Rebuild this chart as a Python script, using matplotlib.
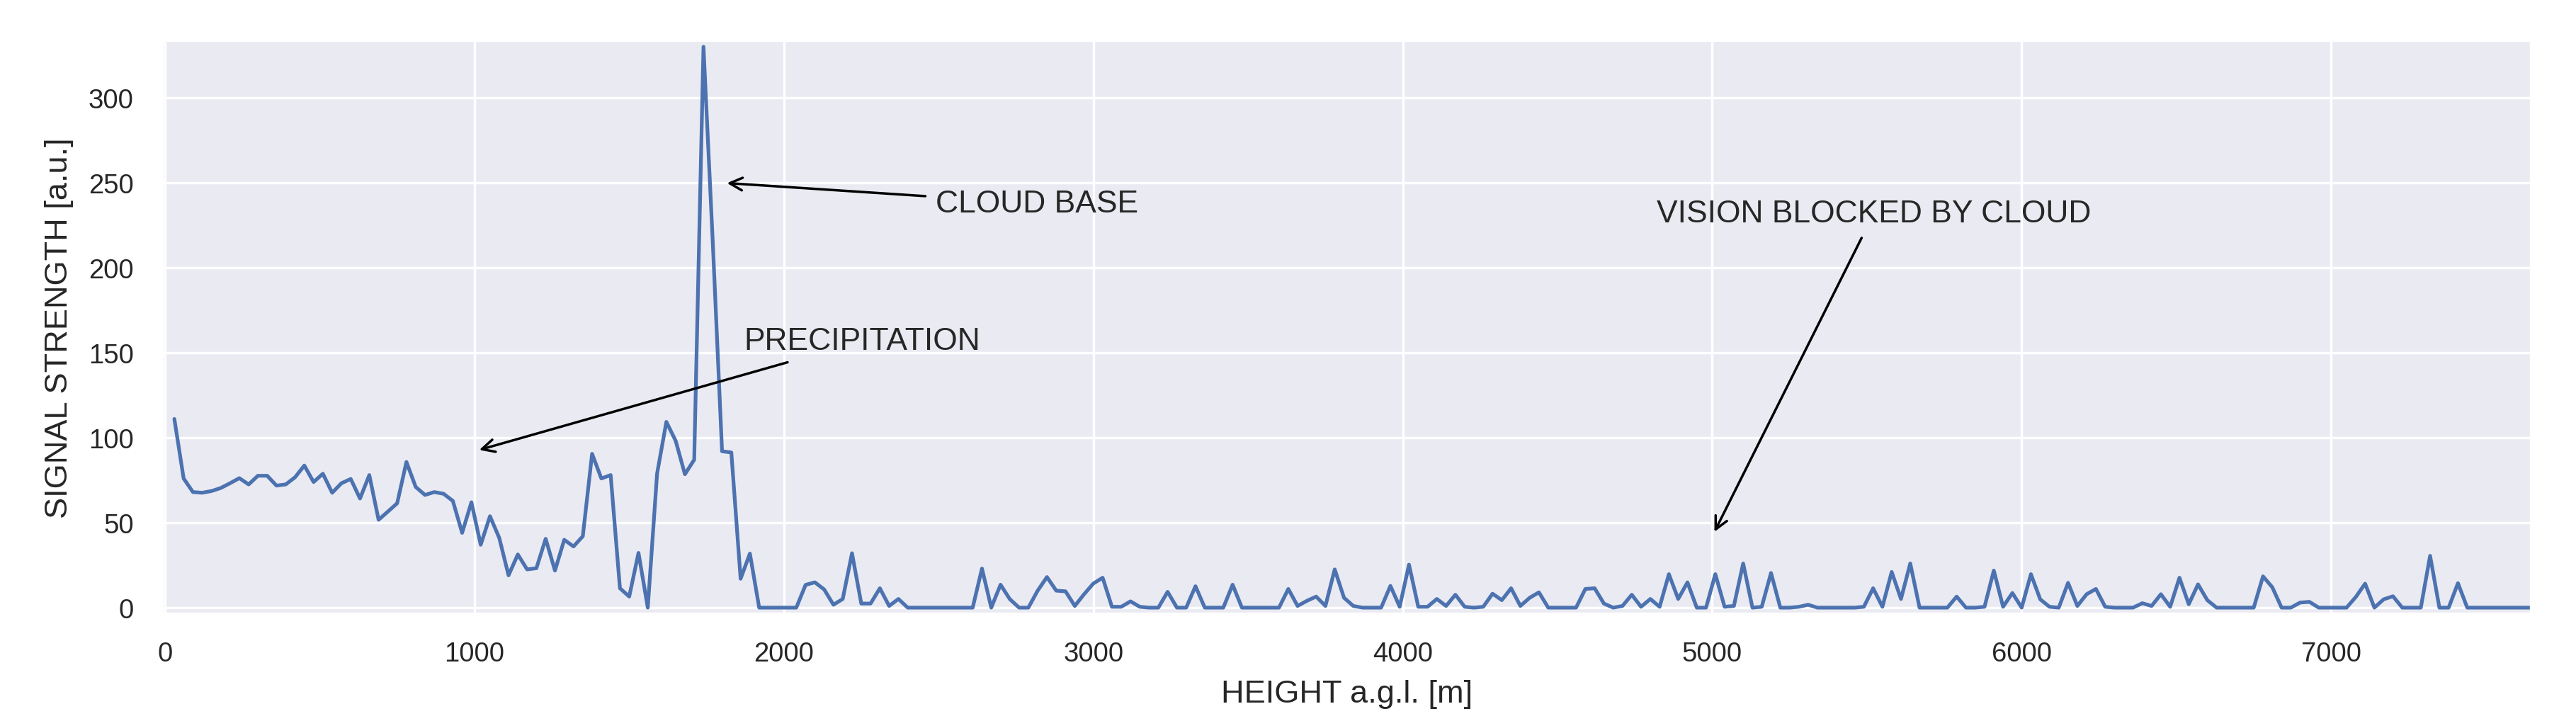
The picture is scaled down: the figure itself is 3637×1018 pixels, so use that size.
import numpy as np
import matplotlib
matplotlib.use("Agg")
import matplotlib.pyplot as plt
import seaborn as sns

# range gates every 30 m
height = np.arange(30, 7681, 30)

signal = [
    111, 76, 68, 67.6, 68.6, 70.4, 73.2, 76.2, 72.5, 77.6,
    77.6, 71.8, 72.5, 76.7, 83.6, 73.9, 78.8, 67.6, 73.2, 75.7,
    64.2, 78, 51.7, 56.5, 61.4, 85.7, 71, 66.3, 68, 67,
    62.8, 44, 62, 37, 53.8, 41, 19, 31.3, 22.5, 23.2,
    40.5, 21.8, 39.9, 36, 42, 90.5, 76, 78, 11.4, 6.5,
    32.2, 0, 78.8, 109.3, 98.2, 78.5, 87, 330, 215, 92,
    91.3, 17, 31.8, 0, 0, 0, 0, 0, 13.4, 14.9,
    10.7, 1.7, 5.1, 32, 2.4, 2.4, 11.4, 1, 5.1, 0,
    0, 0, 0, 0, 0, 0, 0, 23, 0, 13.5,
    5, 0, 0, 10, 18, 10, 9.6, 1, 7.9, 14.2,
    17.6, 0.5, 0.5, 3.7, 0.5, 0, 0, 9.3, 0, 0,
    12.6, 0, 0, 0, 13.5, 0, 0, 0, 0, 0,
    11, 1, 4, 6.5, 1, 22.5, 5.8, 1, 0, 0,
    0, 12.8, 0.5, 25.3, 0.5, 0.5, 5.1, 1, 7.6, 0.5,
    0, 0.5, 8.2, 4.4, 11.4, 1, 5.8, 9, 0, 0,
    0, 0, 11, 11.4, 2.4, 0, 1, 7.6, 0.5, 5.1,
    0.5, 19.7, 5.1, 14.9, 0, 0, 19.7, 0.5, 1, 26,
    0, 0.5, 20.4, 0, 0, 0.5, 1.7, 0, 0, 0,
    0, 0, 0.5, 11.4, 0.5, 21, 5.1, 26, 0, 0,
    0, 0, 6.5, 0, 0, 0.5, 21.8, 0.5, 8.6, 0,
    19.7, 4.9, 0.5, 0, 14.6, 1, 7.9, 11, 0.5, 0,
    0, 0, 2.6, 1, 7.9, 0.5, 17.6, 2, 13.7, 4.4,
    0, 0, 0, 0, 0, 18.4, 12, 0, 0, 3,
    3.4, 0, 0, 0, 0, 6.3, 14.1, 0, 4.9, 6.7,
    0, 0, 0, 30.5, 0, 0, 14.4, 0, 0, 0,
    0, 0, 0, 0, 0, 0,
]

# annotations: label, point, text position
notes = [
    ("CLOUD BASE", (1800, 250), (2490, 233)),
    ("PRECIPITATION", (1000, 92), (1870, 152)),
    ("VISION BLOCKED BY CLOUD", (5000, 42), (4820, 227)),
]

sns.set_theme(style="darkgrid")
plt.rcParams['font.family'] = ['Liberation Sans', 'DejaVu Sans']
plt.rcParams['xtick.major.pad'] = 5
plt.rcParams['ytick.major.pad'] = 5.5

dpi = 250
fig = plt.figure(figsize=(3637 / dpi, 1019 / dpi), dpi=dpi)
ax = fig.add_axes([228.7 / 3637, 1 - 868.3 / 1019,
                   (3574.3 - 228.7) / 3637, (868.3 - 58.4) / 1019])

ax.plot(height, signal, color="#4C72B0", linewidth=1.5)

for label, xy, xytext in notes:
    ax.annotate(label, xy=xy, xytext=xytext, fontsize=12.8,
                arrowprops=dict(arrowstyle="->", color="black"))

ax.set_xlim(-10, 7648)
ax.set_ylim(-3.9, 333.6)
ax.set_xlabel("HEIGHT a.g.l. [m]", fontsize=13, labelpad=5)
ax.set_ylabel("SIGNAL STRENGTH [a.u.]", fontsize=13, labelpad=6)

fig.savefig("out.png", dpi=dpi)
